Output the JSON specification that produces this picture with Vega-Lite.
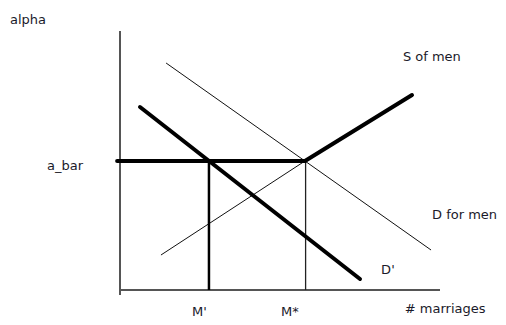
{
  "$schema": "https://vega.github.io/schema/vega-lite/v6.json",
  "width": 506,
  "height": 325,
  "autosize": {"type": "fit", "contains": "padding"},
  "padding": 0,
  "background": "white",
  "config": {"view": {"stroke": null}},
  "datasets": {
    "segs": [
      {"seg": "yaxis", "o": 0, "x": 0, "y": -2},
      {"seg": "yaxis", "o": 1, "x": 0, "y": 103.6},
      {"seg": "xaxis", "o": 0, "x": 0, "y": 0},
      {"seg": "xaxis", "o": 1, "x": 100, "y": 0},
      {"seg": "D", "o": 0, "x": 14.4, "y": 90.8},
      {"seg": "D", "o": 1, "x": 97.2, "y": 16},
      {"seg": "Sthin", "o": 0, "x": 12.8, "y": 14},
      {"seg": "Sthin", "o": 1, "x": 57.8, "y": 51.6},
      {"seg": "Dprime", "o": 0, "x": 6.25, "y": 73.2},
      {"seg": "Dprime", "o": 1, "x": 75, "y": 4.4},
      {"seg": "Sbar", "o": 0, "x": -0.9, "y": 51.6},
      {"seg": "Sbar", "o": 1, "x": 57.8, "y": 51.6},
      {"seg": "Sbar", "o": 2, "x": 91.25, "y": 78},
      {"seg": "Mprime", "o": 0, "x": 27.8, "y": 0},
      {"seg": "Mprime", "o": 1, "x": 27.8, "y": 51.6},
      {"seg": "Mstar", "o": 0, "x": 58, "y": 0},
      {"seg": "Mstar", "o": 1, "x": 58, "y": 51.6}
    ],
    "labels": [
      {"t": "alpha", "x": -34.4, "y": 108},
      {"t": "a_bar", "x": -22.8, "y": 49.6},
      {"t": "S of men", "x": 88.4, "y": 93.2},
      {"t": "D for men", "x": 97.5, "y": 30},
      {"t": "D'", "x": 81.6, "y": 8},
      {"t": "M'", "x": 22.5, "y": -8.8},
      {"t": "M*", "x": 50.3, "y": -8.8},
      {"t": "# marriages", "x": 89, "y": -7.6}
    ]
  },
  "encoding": {
    "x": {"field": "x", "type": "quantitative", "scale": {"domain": [-37.5, 120.625], "nice": false, "zero": false}, "axis": null},
    "y": {"field": "y", "type": "quantitative", "scale": {"domain": [-14, 116], "nice": false, "zero": false}, "axis": null}
  },
  "layer": [
    {
      "data": {"name": "segs"},
      "transform": [{"filter": "datum.seg == 'yaxis' || datum.seg == 'xaxis'"}],
      "mark": {"type": "line", "color": "#555555", "strokeWidth": 2},
      "encoding": {"detail": {"field": "seg"}, "order": {"field": "o"}}
    },
    {
      "data": {"name": "segs"},
      "transform": [{"filter": "datum.seg == 'D' || datum.seg == 'Sthin'"}],
      "mark": {"type": "line", "color": "#111111", "strokeWidth": 1},
      "encoding": {"detail": {"field": "seg"}, "order": {"field": "o"}}
    },
    {
      "data": {"name": "segs"},
      "transform": [{"filter": "datum.seg == 'Mstar'"}],
      "mark": {"type": "line", "color": "#222222", "strokeWidth": 1.3},
      "encoding": {"detail": {"field": "seg"}, "order": {"field": "o"}}
    },
    {
      "data": {"name": "segs"},
      "transform": [{"filter": "datum.seg == 'Mprime'"}],
      "mark": {"type": "line", "color": "#000000", "strokeWidth": 2.5},
      "encoding": {"detail": {"field": "seg"}, "order": {"field": "o"}}
    },
    {
      "data": {"name": "segs"},
      "transform": [{"filter": "datum.seg == 'Dprime' || datum.seg == 'Sbar'"}],
      "mark": {"type": "line", "color": "#000000", "strokeWidth": 4, "strokeCap": "round", "strokeJoin": "round"},
      "encoding": {"detail": {"field": "seg"}, "order": {"field": "o"}}
    },
    {
      "data": {"name": "labels"},
      "mark": {"type": "text", "align": "left", "baseline": "middle", "font": "DejaVu Sans", "fontSize": 13, "color": "#1a1a2a"},
      "encoding": {"text": {"field": "t"}}
    }
  ]
}
